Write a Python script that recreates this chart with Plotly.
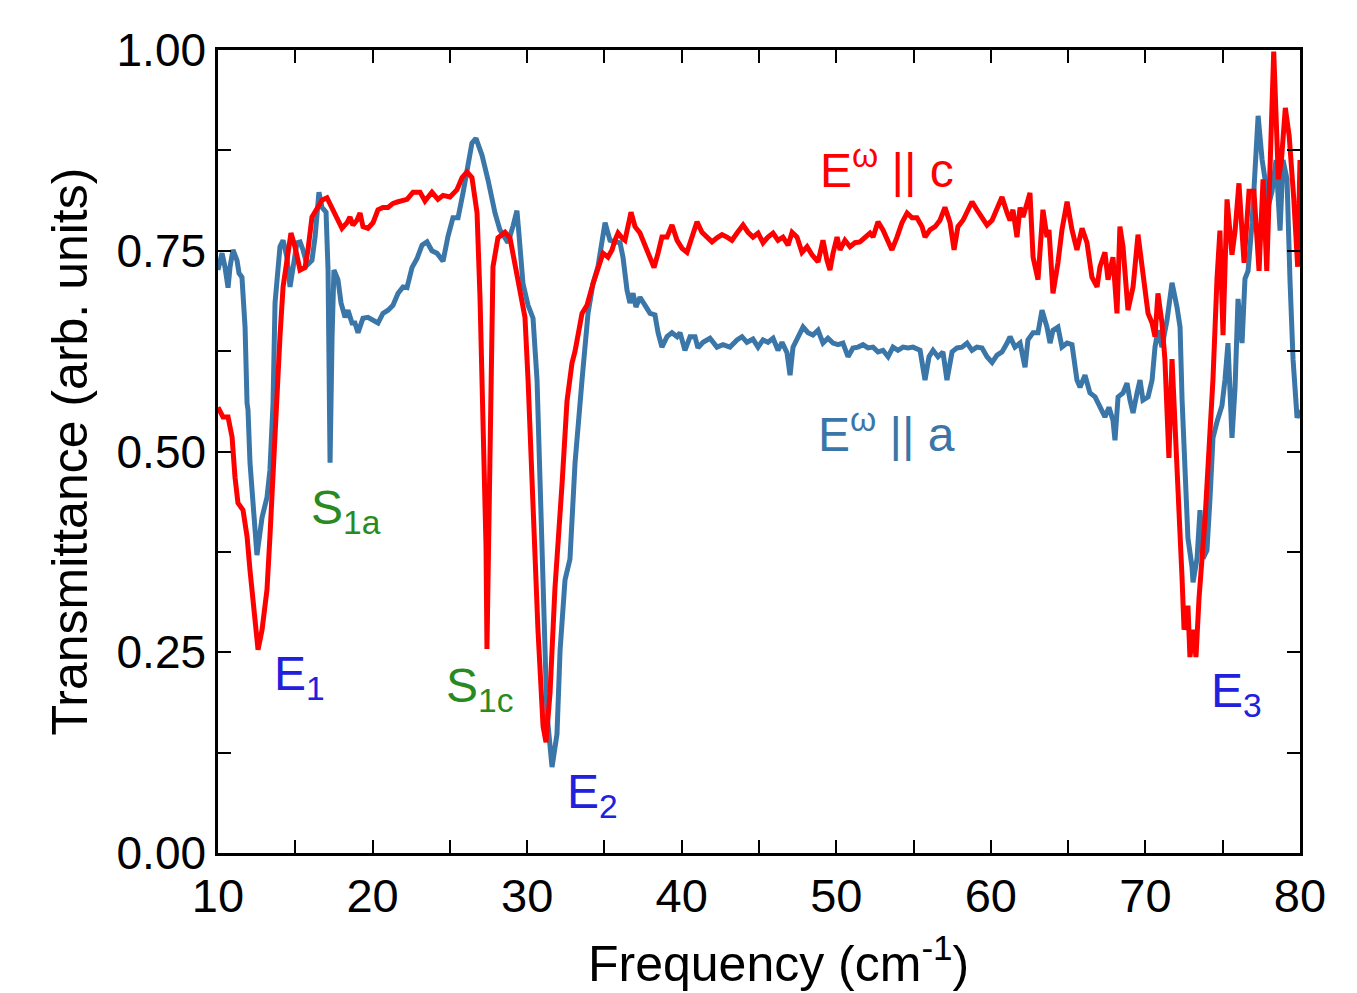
import plotly.graph_objects as go

# ---- E^w || c (red) ----
x_c = [10.00,10.32,10.65,10.91,11.10,11.29,11.62,11.88,12.07,12.26,12.52,12.59,12.85,13.17,13.36,13.56,13.82,14.01,14.21,14.46,
       14.72,14.98,15.31,15.63,15.82,16.08,16.40,16.73,17.05,17.38,17.70,18.02,18.35,18.54,18.73,18.99,19.19,19.38,19.70,20.03,
       20.35,20.67,21.00,21.32,21.65,21.97,22.23,22.62,23.07,23.39,23.84,24.23,24.56,25.01,25.46,25.79,26.11,26.43,26.76,26.95,
       27.14,27.34,27.40,27.53,27.66,27.79,28.11,28.57,28.89,29.21,29.54,29.86,30.06,30.38,30.70,31.03,31.22,31.48,31.80,32.26,
       32.58,32.90,33.10,33.55,33.87,34.26,34.71,34.91,35.23,35.49,35.68,35.88,36.14,36.33,36.72,36.98,37.30,37.63,37.95,38.21,
       38.47,38.72,39.05,39.37,39.70,40.02,40.34,40.67,40.99,41.31,41.64,41.96,42.28,42.61,42.93,43.25,43.58,43.97,44.29,44.61,
       44.94,45.26,45.58,45.91,46.23,46.55,46.88,47.14,47.46,47.78,48.11,48.43,48.82,49.14,49.40,49.59,49.79,50.05,50.24,50.56,
       50.89,51.21,51.53,51.86,52.18,52.38,52.70,53.02,53.35,53.60,53.93,54.25,54.58,54.90,55.22,55.55,55.74,56.06,56.39,56.71,
       57.03,57.36,57.62,57.87,58.20,58.52,58.78,59.10,59.43,59.75,60.08,60.40,60.72,61.05,61.24,61.43,61.69,61.89,62.08,62.40,
       62.53,62.73,63.05,63.37,63.63,63.76,64.02,64.34,64.60,64.93,65.25,65.57,65.90,66.22,66.54,66.87,67.06,67.38,67.58,67.90,
       68.16,68.35,68.55,68.87,69.20,69.52,69.84,70.17,70.43,70.62,70.81,71.07,71.26,71.52,71.72,71.98,72.17,72.37,72.50,72.75,
       72.88,73.08,73.27,73.47,73.86,74.18,74.37,74.63,74.82,75.02,75.28,75.60,75.80,76.05,76.38,76.70,77.02,77.35,77.61,77.85,
       78.10,78.30,78.60,78.80,79.05,79.30,79.60,79.85,80.00]
y_c = [0.555,0.543,0.543,0.518,0.468,0.436,0.427,0.394,0.352,0.311,0.269,0.253,0.278,0.328,0.394,0.477,0.560,0.643,0.705,0.742,
       0.772,0.755,0.726,0.729,0.751,0.792,0.804,0.813,0.816,0.804,0.792,0.778,0.785,0.792,0.782,0.788,0.797,0.780,0.778,0.785,
       0.801,0.804,0.804,0.809,0.811,0.813,0.814,0.823,0.823,0.812,0.823,0.814,0.819,0.817,0.826,0.841,0.848,0.841,0.797,0.692,
       0.537,0.381,0.254,0.433,0.641,0.730,0.766,0.773,0.766,0.735,0.704,0.667,0.589,0.433,0.278,0.158,0.138,0.199,0.330,0.460,
       0.563,0.610,0.625,0.672,0.682,0.709,0.735,0.747,0.742,0.751,0.763,0.772,0.766,0.763,0.798,0.780,0.772,0.755,0.738,0.729,
       0.747,0.767,0.767,0.782,0.763,0.753,0.748,0.767,0.786,0.773,0.767,0.761,0.766,0.770,0.767,0.763,0.772,0.782,0.773,0.767,
       0.772,0.760,0.767,0.772,0.763,0.767,0.757,0.773,0.767,0.748,0.755,0.745,0.736,0.763,0.738,0.726,0.747,0.767,0.751,0.763,
       0.755,0.760,0.761,0.767,0.772,0.767,0.786,0.776,0.760,0.751,0.767,0.785,0.797,0.791,0.791,0.780,0.767,0.776,0.780,0.788,
       0.804,0.785,0.751,0.780,0.788,0.801,0.811,0.801,0.792,0.782,0.788,0.801,0.817,0.797,0.788,0.801,0.767,0.804,0.792,0.813,
       0.822,0.742,0.714,0.801,0.767,0.776,0.697,0.735,0.776,0.811,0.776,0.751,0.778,0.760,0.717,0.705,0.730,0.748,0.714,0.742,
       0.672,0.780,0.755,0.676,0.705,0.770,0.722,0.672,0.660,0.643,0.697,0.660,0.615,0.492,0.615,0.517,0.417,0.342,0.278,0.308,
       0.244,0.278,0.244,0.318,0.417,0.517,0.590,0.715,0.775,0.645,0.814,0.745,0.775,0.834,0.735,0.824,0.824,0.725,0.839,0.725,
       0.863,0.998,0.839,0.863,0.928,0.893,0.814,0.730,0.863]

# ---- E^w || a (blue) ----
x_a = [10.00,10.26,10.45,10.65,10.78,10.97,11.23,11.36,11.55,11.75,11.88,11.94,12.07,12.26,12.52,12.85,13.17,13.36,13.56,13.69,
       13.88,14.01,14.21,14.46,14.66,14.85,15.11,15.31,15.50,15.76,16.08,16.28,16.53,16.73,16.99,17.12,17.25,17.38,17.50,17.76,
       17.96,18.22,18.41,18.67,18.86,19.06,19.38,19.70,20.03,20.35,20.67,21.00,21.32,21.65,21.97,22.23,22.55,22.87,23.20,23.52,
       23.84,24.17,24.56,24.88,25.20,25.53,25.85,26.17,26.43,26.69,27.08,27.47,27.92,28.24,28.57,28.76,29.09,29.34,29.47,29.73,
       30.06,30.38,30.64,30.83,31.03,31.28,31.61,31.93,32.13,32.45,32.77,33.10,33.55,33.94,34.26,34.58,35.04,35.36,35.68,36.01,
       36.20,36.46,36.65,36.85,37.04,37.30,37.63,37.95,38.27,38.47,38.72,39.05,39.37,39.70,39.89,40.21,40.54,40.86,41.05,41.38,
       41.83,42.28,42.67,43.12,43.58,43.90,44.22,44.61,44.94,45.26,45.58,45.91,46.23,46.49,46.81,47.01,47.20,47.52,47.85,48.17,
       48.49,48.82,49.14,49.46,49.79,50.11,50.43,50.76,51.08,51.41,51.73,52.05,52.38,52.70,53.02,53.35,53.67,53.99,54.32,54.64,
       54.96,55.42,55.74,56.00,56.26,56.58,56.90,57.16,57.49,57.81,58.13,58.46,58.78,59.10,59.43,59.75,60.08,60.40,60.72,61.05,
       61.24,61.56,61.89,62.21,62.40,62.73,63.05,63.31,63.63,63.83,64.02,64.34,64.60,64.93,65.25,65.57,65.77,66.09,66.41,66.74,
       67.06,67.38,67.64,67.90,68.03,68.23,68.55,68.81,69.00,69.20,69.46,69.65,69.84,70.17,70.43,70.62,70.81,71.07,71.40,71.72,
       72.04,72.24,72.37,72.56,72.75,73.01,73.08,73.34,73.53,73.73,73.98,74.18,74.37,74.63,74.95,75.15,75.34,75.60,75.80,75.99,
       76.25,76.44,76.64,76.90,77.09,77.29,77.55,77.74,77.93,78.19,78.45,78.71,78.90,79.16,79.35,79.55,79.81,80.00]
y_a = [0.726,0.747,0.730,0.704,0.730,0.751,0.738,0.722,0.717,0.655,0.560,0.552,0.486,0.436,0.371,0.418,0.443,0.477,0.560,0.685,
       0.726,0.755,0.763,0.742,0.705,0.730,0.760,0.761,0.751,0.732,0.738,0.767,0.823,0.804,0.798,0.726,0.486,0.643,0.726,0.714,
       0.685,0.667,0.676,0.660,0.660,0.648,0.666,0.667,0.664,0.660,0.672,0.676,0.682,0.697,0.705,0.704,0.729,0.740,0.757,0.761,
       0.750,0.747,0.737,0.768,0.791,0.791,0.822,0.859,0.884,0.890,0.869,0.838,0.797,0.776,0.766,0.760,0.781,0.800,0.771,0.709,
       0.682,0.666,0.589,0.460,0.304,0.174,0.107,0.148,0.252,0.340,0.366,0.486,0.589,0.672,0.709,0.730,0.785,0.763,0.761,0.760,
       0.742,0.701,0.685,0.697,0.680,0.692,0.682,0.672,0.670,0.648,0.630,0.643,0.648,0.643,0.648,0.626,0.643,0.643,0.629,0.636,
       0.641,0.630,0.633,0.630,0.639,0.643,0.636,0.640,0.630,0.639,0.636,0.641,0.626,0.636,0.623,0.595,0.630,0.643,0.655,0.648,
       0.645,0.651,0.635,0.641,0.635,0.633,0.635,0.618,0.629,0.630,0.633,0.629,0.630,0.624,0.626,0.618,0.630,0.626,0.630,0.629,
       0.630,0.626,0.589,0.618,0.626,0.618,0.624,0.589,0.624,0.629,0.630,0.635,0.626,0.630,0.629,0.618,0.611,0.620,0.624,0.635,
       0.643,0.630,0.635,0.605,0.639,0.648,0.648,0.676,0.655,0.635,0.651,0.655,0.630,0.635,0.633,0.589,0.580,0.595,0.573,0.568,
       0.555,0.543,0.555,0.539,0.514,0.568,0.573,0.585,0.564,0.548,0.573,0.589,0.564,0.568,0.589,0.630,0.651,0.630,0.664,0.710,
       0.680,0.655,0.565,0.467,0.392,0.357,0.337,0.367,0.427,0.367,0.377,0.442,0.517,0.537,0.557,0.590,0.635,0.517,0.580,0.690,
       0.635,0.715,0.725,0.785,0.839,0.918,0.863,0.839,0.804,0.824,0.863,0.775,0.863,0.839,0.715,0.615,0.542,0.552]

# ---- text labels ----
label_text = ["E<sup>ω</sup> || c", "E<sup>ω</sup> || a", "S<sub>1a</sub>", "E<sub>1</sub>",
              "S<sub>1c</sub>", "E<sub>2</sub>", "E<sub>3</sub>"]
label_x = [53.28, 53.28, 18.31, 15.24, 26.92, 34.23, 75.86]
label_y = [0.854, 0.526, 0.426, 0.219, 0.204, 0.072, 0.198]
label_color = ["#FF0000", "#3B76A8", "#2A8A22", "#2020DD", "#2A8A22", "#2020DD", "#2020DD"]

x_title = "Frequency (cm<sup>-1</sup>)"
y_title = "Transmittance (arb. units)"

RED = "#FF0000"
BLUE = "#3B76A8"
FONT = "Liberation Sans, Arial, sans-serif"

fig = go.Figure()
fig.add_trace(go.Scatter(x=x_a, y=y_a, mode="lines", line=dict(color=BLUE, width=5), showlegend=False))
fig.add_trace(go.Scatter(x=x_c, y=y_c, mode="lines", line=dict(color=RED, width=5), showlegend=False))

for t, x, y, c in zip(label_text, label_x, label_y, label_color):
    fig.add_annotation(x=x, y=y, xref="x", yref="y", text=t, showarrow=False,
                       font=dict(family=FONT, size=48, color=c), xanchor="center", yanchor="middle")

# x-axis title (slightly right of the plot centre, as in the original)
fig.add_annotation(x=0.5176, y=-0.1335, xref="paper", yref="paper", text=x_title, showarrow=False,
                   font=dict(family=FONT, size=50, color="black"), xanchor="center", yanchor="middle")

axis_common = dict(showline=True, linecolor="black", linewidth=2.5, mirror="ticks",
                   ticks="inside", ticklen=13, tickwidth=2, tickcolor="black",
                   showgrid=False, zeroline=False)

fig.update_xaxes(range=[10, 80], dtick=10, tick0=10,
                 tickfont=dict(family=FONT, size=47, color="black"),
                 minor=dict(dtick=5, ticks="inside", ticklen=13, tickwidth=2, tickcolor="black", showgrid=False),
                 **axis_common)
fig.update_yaxes(range=[0, 1], dtick=0.25, tick0=0, tickformat=".2f",
                 tickfont=dict(family=FONT, size=46, color="black"),
                 minor=dict(dtick=0.125, ticks="inside", ticklen=13, tickwidth=2, tickcolor="black", showgrid=False),
                 title=dict(text=y_title, font=dict(family=FONT, size=50, color="black"), standoff=14),
                 **axis_common)

fig.update_layout(width=1357, height=993, plot_bgcolor="white", paper_bgcolor="white",
                  margin=dict(l=218, r=57, t=50, b=140), showlegend=False)

fig.write_html("out.html", config={"displayModeBar": False},
               post_script="document.body.style.margin='0';document.body.style.overflow='hidden';")
